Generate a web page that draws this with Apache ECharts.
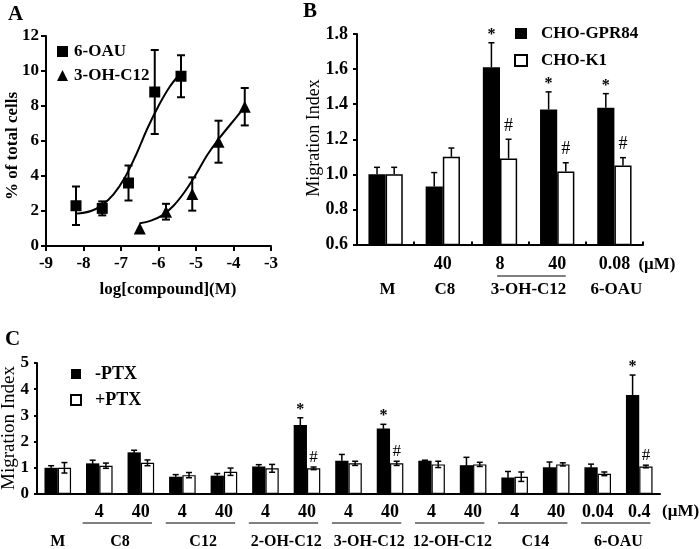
<!DOCTYPE html>
<html><head><meta charset="utf-8">
<script src="https://cdn.jsdelivr.net/npm/echarts@6/dist/echarts.min.js"></script>
<style>html,body{margin:0;padding:0;background:#fff}#c{width:700px;height:549px}</style>
</head><body><div id="c"></div>
<script>
// ---------- Panel A data ----------
const aX6 = [-8.2, -7.5, -6.8, -6.1, -5.4];
const aY6 = [2.3, 2.15, 3.6, 8.8, 9.7];
const aE6 = [1.1, 0.4, 1.0, 2.4, 1.2];
const aX3 = [-6.5, -5.8, -5.1, -4.4, -3.7];
const aY3 = [1.0, 1.96, 2.97, 5.96, 7.96];
const aE3 = [0, 0.45, 0.95, 1.2, 1.07];
const fitX6 = [-8.2, -7.8, -7.5, -7.2, -6.9, -6.6, -6.3, -6.0, -5.7, -5.4];
const fitY6 = [1.85, 2.0, 2.35, 2.95, 3.9, 5.2, 6.7, 8.0, 9.1, 9.9];
const fitX3 = [-6.5, -6.2, -5.9, -5.6, -5.3, -5.0, -4.7, -4.4, -4.1, -3.7];
const fitY3 = [1.3, 1.45, 1.75, 2.3, 3.1, 4.1, 5.2, 6.1, 6.9, 7.95];

// ---------- Panel B data ----------
const bDose = ['', '40', '8', '40', '0.08'];
const bGroupNames = ['M', 'C8', '3-OH-C12', '6-OAU'];
const bGroupFrom = [0, 1, 2, 4];
const bGroupTo = [0, 1, 3, 4];
const bGPR = [1.0, 0.93, 1.61, 1.37, 1.38];
const bGPRerr = [0.04, 0.08, 0.14, 0.10, 0.08];
const bK1 = [1.0, 1.10, 1.09, 1.016, 1.05];
const bK1err = [0.04, 0.05, 0.11, 0.05, 0.045];
const bStar = ['', '', '*', '*', '*'];
const bHash = ['', '', '#', '#', '#'];

// ---------- Panel C data ----------
const cDose = ['', '4', '40', '4', '40', '4', '40', '4', '40', '4', '40', '4', '40', '0.04', '0.4'];
const cGroupNames = ['M', 'C8', 'C12', '2-OH-C12', '3-OH-C12', '12-OH-C12', 'C14', '6-OAU'];
const cGroupFrom = [0, 1, 3, 5, 7, 9, 11, 13];
const cGroupTo = [0, 2, 4, 6, 8, 10, 12, 14];
const cMinus = [1.0, 1.17, 1.59, 0.66, 0.70, 1.05, 2.63, 1.27, 2.50, 1.27, 1.10, 0.63, 1.02, 1.02, 3.78];
const cMinusErr = [0.08, 0.12, 0.08, 0.08, 0.08, 0.07, 0.28, 0.24, 0.16, 0.02, 0.30, 0.23, 0.20, 0.12, 0.76];
const cPlus = [1.0, 1.08, 1.19, 0.72, 0.85, 0.98, 0.98, 1.17, 1.17, 1.13, 1.13, 0.66, 1.13, 0.77, 1.05];
const cPlusErr = [0.20, 0.10, 0.11, 0.10, 0.14, 0.15, 0.05, 0.08, 0.08, 0.12, 0.08, 0.18, 0.06, 0.07, 0.05];
const cStar = ['', '', '', '', '', '', '*', '', '*', '', '', '', '', '', '*'];
const cHash = ['', '', '', '', '', '', '#', '', '#', '', '', '', '', '', '#'];

const F = 'Liberation Serif';
const BLK = '#000';

function ln(x1, y1, x2, y2, w) {
  return { type: 'line', shape: { x1, y1, x2, y2 }, style: { stroke: BLK, lineWidth: w || 1.5 } };
}

function errA(xs, ys, es) {
  return {
    type: 'custom', xAxisIndex: 0, yAxisIndex: 0, z: 5, silent: true,
    data: xs.map((x, i) => [x, ys[i], es[i]]),
    renderItem(p, api) {
      const x = api.value(0), y = api.value(1), e = api.value(2);
      if (!e) return { type: 'group', children: [] };
      const t = api.coord([x, y + e]), b = api.coord([x, y - e]);
      const w = 4;
      return { type: 'group', children: [ln(t[0], t[1], b[0], b[1], 2), ln(t[0] - w, t[1], t[0] + w, t[1], 2), ln(b[0] - w, b[1], b[0] + w, b[1], 2)] };
    }
  };
}

function errBar(xi, yi, vals, errs, marks, shift, both, markFont, markGap) {
  return {
    type: 'custom', xAxisIndex: xi, yAxisIndex: yi, z: 5, silent: true,
    data: vals.map((v, i) => [i, v, errs[i]]),
    renderItem(p, api) {
      const i = api.value(0), v = api.value(1), e = api.value(2);
      const band = api.size([1, 0])[0];
      const c = api.coord([i, v]);
      const cx = c[0] + shift * band;
      const yt = api.coord([i, v + e])[1];
      const yb = api.coord([i, v - e])[1];
      const w = 3;
      const ch = [ln(cx, c[1], cx, yt, 1.5), ln(cx - w, yt, cx + w, yt, 1.5)];
      if (both) { ch.push(ln(cx, c[1], cx, yb, 1.5)); ch.push(ln(cx - w, yb, cx + w, yb, 1.5)); }
      const m = marks[p.dataIndex];
      if (m) {
        ch.push({ type: 'text', x: cx, y: yt - markGap, style: { text: m, font: markFont, fill: BLK, textAlign: 'center', textVerticalAlign: 'bottom' } });
      }
      return { type: 'group', children: ch };
    }
  };
}

const axisLineStyle = { lineStyle: { color: BLK, width: 2 } };
function lbl(size, extra) { return Object.assign({ color: BLK, fontFamily: F, fontWeight: 'bold', fontSize: size }, extra); }

const chart = echarts.init(document.getElementById('c'), null, { renderer: 'canvas' });

const option = {
  backgroundColor: '#fff',
  animation: false,
  grid: [
    { left: 46, top: 36, width: 225, height: 210 },
    { left: 357, top: 34, width: 286, height: 210.5 },
    { left: 37, top: 363, width: 623, height: 131 }
  ],
  legend: [
    { data: ['6-OAU', '3-OH-C12'], left: 57, top: 43, padding: 0, orient: 'vertical', itemGap: 7, itemWidth: 11, itemHeight: 11,
      textStyle: { fontFamily: F, fontWeight: 'bold', fontSize: 17, color: BLK, padding: [0, 0, 0, 1] } },
    { data: [{ name: 'CHO-GPR84', icon: 'rect' }, { name: 'CHO-K1', icon: 'rect' }], left: 514, top: 25, padding: 0, orient: 'vertical', itemGap: 10, itemWidth: 12, itemHeight: 11,
      textStyle: { fontFamily: F, fontWeight: 'bold', fontSize: 17, color: BLK, padding: [0, 0, 0, 9] } },
    { data: [{ name: '-PTX', icon: 'rect' }, { name: '+PTX', icon: 'rect' }], left: 70, top: 365, padding: 0, orient: 'vertical', itemGap: 8, itemWidth: 10, itemHeight: 10,
      textStyle: { fontFamily: F, fontWeight: 'bold', fontSize: 18, color: BLK, padding: [0, 0, 0, 9] } }
  ],
  xAxis: [
    { gridIndex: 0, type: 'value', min: -9, max: -3, interval: 1,
      axisLine: axisLineStyle, axisTick: { length: 5, lineStyle: { color: BLK, width: 2 } },
      axisLabel: lbl(17, { margin: 9 }), splitLine: { show: false } },
    { gridIndex: 1, type: 'category', data: bDose,
      axisLine: axisLineStyle, axisTick: { show: true, inside: true, length: 3, lineStyle: { color: BLK, width: 2 } },
      axisLabel: lbl(18, { margin: 11, interval: 0 }) },
    { gridIndex: 2, type: 'category', data: cDose,
      axisLine: axisLineStyle, axisTick: { show: false },
      axisLabel: lbl(18, { margin: 9, interval: 0 }) }
  ],
  yAxis: [
    { gridIndex: 0, type: 'value', min: 0, max: 12, interval: 2,
      axisLine: { show: true, lineStyle: { color: BLK, width: 2 } }, axisTick: { show: true, length: 5, lineStyle: { color: BLK, width: 2 } },
      axisLabel: lbl(17, { margin: 7 }), splitLine: { show: false } },
    { gridIndex: 1, type: 'value', min: 0.6, max: 1.8, interval: 0.2,
      axisLine: { show: true, lineStyle: { color: BLK, width: 2 } }, axisTick: { show: true, length: 4, lineStyle: { color: BLK, width: 2 } },
      axisLabel: lbl(18, { margin: 9, formatter: v => v.toFixed(1) }), splitLine: { show: false } },
    { gridIndex: 2, type: 'value', min: 0, max: 5, interval: 1,
      axisLine: { show: true, lineStyle: { color: BLK, width: 2 } }, axisTick: { show: true, length: 3, lineStyle: { color: BLK, width: 2 } },
      axisLabel: lbl(17, { margin: 8 }), splitLine: { show: false } }
  ],
  series: [
    // Panel A
    { name: 'fit6', type: 'line', xAxisIndex: 0, yAxisIndex: 0, data: fitX6.map((x, i) => [x, fitY6[i]]),
      showSymbol: false, smooth: 0.4, lineStyle: { color: BLK, width: 2 }, z: 3, silent: true },
    { name: 'fit3', type: 'line', xAxisIndex: 0, yAxisIndex: 0, data: fitX3.map((x, i) => [x, fitY3[i]]),
      showSymbol: false, smooth: 0.4, lineStyle: { color: BLK, width: 2 }, z: 3, silent: true },
    errA(aX6, aY6, aE6),
    errA(aX3, aY3, aE3),
    { name: '6-OAU', type: 'scatter', xAxisIndex: 0, yAxisIndex: 0, symbol: 'rect', symbolSize: 11,
      itemStyle: { color: BLK, opacity: 1 }, data: aX6.map((x, i) => [x, aY6[i]]), z: 6 },
    { name: '3-OH-C12', type: 'scatter', xAxisIndex: 0, yAxisIndex: 0, symbol: 'triangle', symbolSize: 12,
      itemStyle: { color: BLK, opacity: 1 }, data: aX3.map((x, i) => [x, aY3[i]]), z: 6 },
    // Panel B
    { name: 'CHO-GPR84', type: 'bar', xAxisIndex: 1, yAxisIndex: 1, data: bGPR, barWidth: '30%', barGap: '0%',
      itemStyle: { color: BLK } },
    { name: 'CHO-K1', type: 'bar', xAxisIndex: 1, yAxisIndex: 1, data: bK1, barWidth: '30%', barGap: '0%',
      itemStyle: { color: '#fff', borderColor: BLK, borderWidth: 1.5 } },
    errBar(1, 1, bGPR, bGPRerr, bStar, -0.15, false, 'bold 16px ' + F, 0),
    errBar(1, 1, bK1, bK1err, bHash, 0.15, false, '18px ' + F, 4),
    // Panel C
    { name: '-PTX', type: 'bar', xAxisIndex: 2, yAxisIndex: 2, data: cMinus, barWidth: '32%', barGap: '0%',
      itemStyle: { color: BLK } },
    { name: '+PTX', type: 'bar', xAxisIndex: 2, yAxisIndex: 2, data: cPlus, barWidth: '32%', barGap: '0%',
      itemStyle: { color: '#fff', borderColor: BLK, borderWidth: 1.2 } },
    errBar(2, 2, cMinus, cMinusErr, cStar, -0.16, true, 'bold 16px ' + F, 0),
    errBar(2, 2, cPlus, cPlusErr, cHash, 0.16, true, '17px ' + F, 1)
  ]
};
chart.setOption(option);

// ---------- text annotations placed via axis scales ----------
const g = [];
function txt(text, x, y, font, align, rot) {
  g.push({ type: 'text', x, y, rotation: rot || 0, silent: true,
    style: { text, font, fill: BLK, textAlign: align || 'center', textVerticalAlign: 'middle' } });
}
function hline(x1, x2, y) {
  g.push({ type: 'line', silent: true, shape: { x1, y1: y, x2, y2: y }, style: { stroke: BLK, lineWidth: 1 } });
}
txt('A', 8, 15, 'bold 21px ' + F, 'left');
txt('B', 303, 12, 'bold 21px ' + F, 'left');
txt('C', 5, 340, 'bold 21px ' + F, 'left');
txt('% of total cells', 13, 146, 'bold 17px ' + F, 'center', Math.PI / 2);
txt('log[compound](M)', 168, 290, 'bold 17px ' + F, 'center');
txt('Migration Index', 314, 138, '18px ' + F, 'center', Math.PI / 2);
txt('Migration Index', 9, 428, '19px ' + F, 'center', Math.PI / 2);

// Panel B groups
const bBand = chart.convertToPixel({ xAxisIndex: 1 }, 1) - chart.convertToPixel({ xAxisIndex: 1 }, 0);
bGroupNames.forEach((n, k) => {
  const x1 = chart.convertToPixel({ xAxisIndex: 1 }, bGroupFrom[k]);
  const x2 = chart.convertToPixel({ xAxisIndex: 1 }, bGroupTo[k]);
  txt(n, (x1 + x2) / 2 + (bGroupTo[k] > bGroupFrom[k] ? 0 : 2), 290, 'bold 17px ' + F, 'center');
  if (bGroupTo[k] > bGroupFrom[k]) hline(x1 - 0.05 * bBand, x2 + 0.15 * bBand, 276);
});
const bLast = chart.convertToPixel({ xAxisIndex: 1 }, bDose.length - 1);
txt('(\u03bcM)', bLast + 0.42 * bBand, 265, 'bold 17px ' + F, 'left');

// Panel C groups
const cBand = chart.convertToPixel({ xAxisIndex: 2 }, 1) - chart.convertToPixel({ xAxisIndex: 2 }, 0);
cGroupNames.forEach((n, k) => {
  const x1 = chart.convertToPixel({ xAxisIndex: 2 }, cGroupFrom[k]);
  const x2 = chart.convertToPixel({ xAxisIndex: 2 }, cGroupTo[k]);
  txt(n, (x1 + x2) / 2, 542, 'bold 16px ' + F, 'center');
  if (cGroupTo[k] > cGroupFrom[k]) hline(x1 - 0.4 * cBand, x2 + 0.27 * cBand, 523);
});
const cLast = chart.convertToPixel({ xAxisIndex: 2 }, cDose.length - 1);
txt('(\u03bcM)', cLast + 0.55 * cBand, 512, 'bold 17px ' + F, 'left');

chart.setOption({ graphic: g });
</script></body></html>
